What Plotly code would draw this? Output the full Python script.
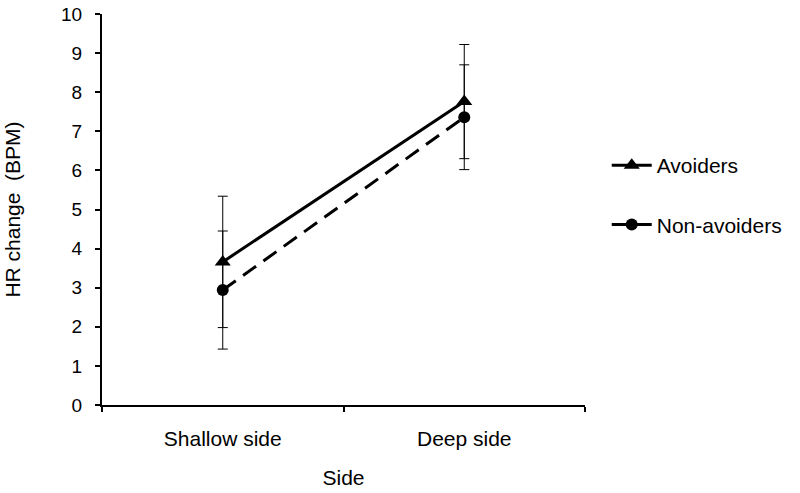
import plotly.graph_objects as go

sides = ["Shallow side", "Deep side"]

avoiders = [3.66, 7.76]
avoiders_err = [1.68, 1.46]

non_avoiders = [2.94, 7.36]
non_avoiders_err = [1.51, 1.34]

y_ticks = list(range(0, 11))

font = "Liberation Sans, Arial, sans-serif"

fig = go.Figure()

fig.add_trace(go.Scatter(
    x=sides, y=avoiders, name="Avoiders", legendgroup="a",
    mode="lines+markers",
    line=dict(color="black", width=3),
    marker=dict(symbol="triangle-up", size=14, color="black"),
    error_y=dict(type="data", array=avoiders_err, color="black", thickness=1, width=5),
))

fig.add_trace(go.Scatter(
    x=sides, y=non_avoiders, name="Non-avoiders", legendgroup="b",
    mode="lines+markers",
    line=dict(color="black", width=3, dash="16px,9px"),
    marker=dict(symbol="circle", size=12, color="black"),
    error_y=dict(type="data", array=non_avoiders_err, color="black", thickness=1, width=5),
))

fig.update_xaxes(
    type="category", range=[-0.5, 1.5], automargin=False,
    showline=True, linecolor="black", linewidth=2,
    ticks="outside", tickson="boundaries", ticklen=5, tickwidth=2, tickcolor="black",
    showgrid=False, zeroline=False,
    tickfont=dict(size=21, color="black"),
    ticklabelstandoff=14,
    title=dict(text="Side", font=dict(size=21, color="black"), standoff=21),
)

fig.update_yaxes(
    range=[0, 10], tickvals=y_ticks, automargin=False,
    showline=True, linecolor="black", linewidth=2,
    ticks="outside", ticklen=5, tickwidth=2, tickcolor="black",
    showgrid=False, zeroline=False,
    tickfont=dict(size=19, color="black"),
    ticklabelstandoff=9,
    title=dict(text="HR change  (BPM)", font=dict(size=21, color="black"), standoff=35),
)

fig.update_layout(
    width=800, height=493,
    margin=dict(l=102, r=215, t=14, b=88),
    paper_bgcolor="white", plot_bgcolor="white",
    font=dict(family=font, color="black"),
    legend=dict(
        x=1.045, y=0.665, xanchor="left", yanchor="top",
        font=dict(size=21, color="black"),
        tracegroupgap=29,
        itemwidth=40,
    ),
)

fig.write_html("out.html", config={"displayModeBar": False},
               post_script="document.body.style.margin='0';")
